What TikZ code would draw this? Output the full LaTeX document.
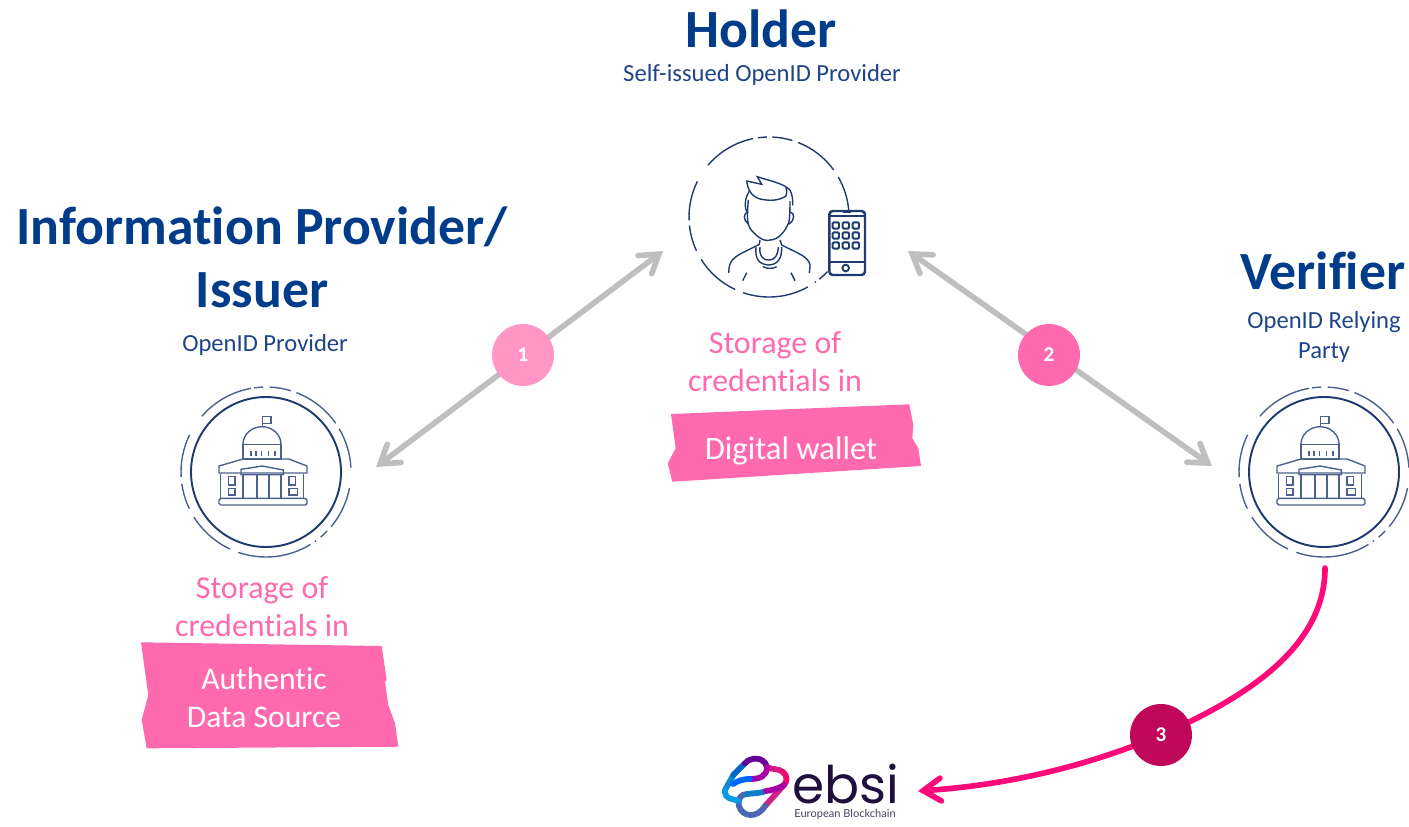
\documentclass[tikz,border=0pt]{standalone}
\usepackage{fontspec}
\setmainfont{Carlito}[RawFeature={-liga}]
\newfontfamily\logofont{Poppins}
\newfontfamily\smallfont{Lato}
\usetikzlibrary{arrows.meta}
\definecolor{navy}{HTML}{003C8A}
\definecolor{subnavy}{HTML}{1F4488}
\definecolor{icon}{HTML}{1F3A6E}
\definecolor{rose}{HTML}{FF69AE}
\definecolor{greyarrow}{HTML}{BFBFBF}
\definecolor{hotline}{HTML}{FF0A78}
\definecolor{ebsidark}{HTML}{1E0F3C}
\tikzset{
  >={Straight Barb[length=10pt,width=13pt,line cap=round]},
  title/.style={text=navy, font=\fontsize{30.6}{36}\selectfont\bfseries, align=center},
  subtitle/.style={text=subnavy, font=\fontsize{14}{17}\selectfont, align=center},
  stored/.style={text=rose, font=\fontsize{18.2}{21.5}\selectfont, align=center},
  tapetext/.style={text=white, font=\fontsize{18}{21.5}\selectfont, align=center},
  tape/.style={fill=rose, draw=none},
  badge/.style={circle, minimum size=1.24cm, inner sep=0pt, text=white, font=\fontsize{12}{14}\selectfont\bfseries},
  iconline/.style={draw=icon, line width=0.8pt},
  thinline/.style={draw=icon!80!white, line width=0.8pt},
  logoline/.style={line width=3.3pt, line cap=round},
  building/.pic={
    \draw [iconline, line width=1.1pt] (0,0) circle [radius=75];
    \foreach \a/\b in {-139/-100,-98/-92,-87.5/-73,-69/-35,-30.6/-3,11/40,44/50,54/55,58.5/109,115/148,154.5/172,176.6/206}
      \draw [thinline] (\a:85) arc [start angle=\a, end angle=\b, radius=85];
    \draw [thinline] (-3.7,-45) -- (-3.7,-55.3) rectangle (5,-48.7);
    \draw [thinline] (-23,-27.7) arc [start angle=180, end angle=360, x radius=19, y radius=17.6];
    \draw [thinline] (-23,-27.7) rectangle (15,-13);
    \foreach \x in {-15,-10,-4.3,2.3,9}
      \draw [thinline] (\x,-21) -- (\x,-16);
    \draw [thinline] (-47,-6) -- (-23,-13) -- (23,-13) -- (41,-6) -- (41,1) -- (-47,1) -- cycle;
    \draw [thinline] (-25,-2.7) -- (-3.7,-6) -- (17.3,-2) -- (17.3,2.7) -- (-25,2.7) -- cycle;
    \foreach \x in {-45.3,37.3,-23,-9,3,15}
      \draw [thinline] (\x,2) -- (\x,26.3);
    \draw [thinline] (-37.3,4.7) rectangle (-31,13);
    \draw [thinline] (-37.3,16.3) rectangle (-31,23);
    \draw [thinline] (23,4.7) rectangle (29.7,13);
    \draw [thinline] (23,16.3) rectangle (31.3,23);
    \draw [thinline, rounded corners=1pt] (-47,26.3) rectangle (41,33);
  }
}
\begin{document}
\begin{tikzpicture}[x=0.02cm, y=-0.02cm]
\useasboundingbox (0,0) rectangle (1409,826);

\node [title] (holdertitle) at (761,29) {Holder};
\node [subtitle] (holdersub) at (762,75) {Self-issued OpenID Provider};
\node [title] (issuertitle) at (262,257) {Information Provider/\\Issuer};
\node [subtitle] (issuersub) at (265,345) {OpenID Provider};
\node [title] (verifiertitle) at (1323,271) {Verifier};
\node [subtitle] (verifiersub) at (1324,337) {OpenID Relying\\Party};

\coordinate (holder) at (769,217);
\foreach \a/\b in {-139.7/-101.6,-98/-91.5,-87.6/-73,-68.6/-36,-30/-4,43/51,54/55,61/109,115/148,155/174,177.6/206.4}
  \draw [iconline] (holder) ++(\a:80) arc [start angle=\a, end angle=\b, radius=80];
\draw [iconline, line cap=round] (746.7,181) -- (761.7,184.3) -- (757.3,176.7) .. controls (770,181) and (783,183) .. (790,190) .. controls (792,194) and (793,199) .. (792.7,205);
\draw [iconline, line cap=round] (746.7,181) .. controls (748,190) and (751,196) .. (760,199) .. controls (770,201) and (778,201) .. (786,196) .. controls (787,192) and (787,189) .. (786,188);
\draw [iconline] (750,190) .. controls (745,198) and (744,204) .. (746.7,212);
\draw [iconline] (748.3,200) .. controls (747,218) and (746,226) .. (754,233) .. controls (762,241) and (767,241) .. (770,240) .. controls (778,240) and (785,232) .. (789,222) .. controls (790,214) and (790,206) .. (790,201);
\draw [iconline] (748.3,212) .. controls (743,213) and (743,220) .. (748.3,224);
\draw [iconline] (790,212) .. controls (795,213) and (795,220) .. (789,224);
\draw [iconline] (760,240) -- (759.3,244.3) .. controls (745,252) and (735,255) .. (731,262) .. controls (729,265) and (729,269) .. (728.7,273);
\draw [iconline] (780,240) -- (781.7,245) .. controls (795,252) and (805,255) .. (809,262) .. controls (811,265) and (809.5,269) .. (809.3,273);
\draw [iconline] (756,247) .. controls (755,258) and (758,264) .. (768,265) .. controls (778,265) and (782,258) .. (781.7,247);
\draw [iconline] (760,247) .. controls (759,255) and (762,260) .. (769,260) .. controls (775,260) and (778,255) .. (778.3,247);
\draw [iconline] (762.7,266.7) .. controls (768,269) and (772,269) .. (776.7,266.7);
\draw [iconline] (746.7,272.7) -- (742.7,280.7);
\draw [iconline] (791,272.7) -- (795,280.7);
\draw [draw=icon, line width=1.4pt, rounded corners=2pt] (829.3,211) rectangle (865,275);
\draw [draw=icon, line width=1.1pt] (829.3,215.7) -- (865,215.7);
\draw [draw=icon, line width=1.1pt] (829.3,262.3) -- (865,262.3);
\draw [draw=icon, line width=1.1pt] (843,212.5) -- (851,212.5);
\foreach \x in {832.7,842.7,852.7}
  \foreach \y in {222.3,232.3,242.3}
    \draw [draw=icon, line width=1.1pt, rounded corners=0.7pt] (\x,\y) rectangle ++(6.3,6.3);
\draw [draw=icon, line width=1.1pt] (845.7,268) circle [radius=3.3];

\coordinate (issuer) at (266,472);
\coordinate (verifier) at (1324,472);
\pic at (issuer) {building};
\pic at (verifier) {building};

\node [stored] (issuerstored) at (262,607) {Storage of\\credentials in};
\node [stored] (holderstored) at (775,362) {Storage of\\credentials in};

\draw [tape] (141,642.3) -- (381.7,646) -- (386.7,680) -- (385,681.7) -- (388.3,705) -- (395,723.3) -- (398.3,746.7) -- (146.7,748.3) -- (141.7,720) -- (148.3,695) -- cycle;
\draw [tape] (671,414) -- (909.3,404.3) -- (913.3,425) -- (912.3,438.3) -- (918.3,448.3) -- (921,466) -- (672.3,481.7) -- (667.7,463.3) -- (675.7,448.3) -- cycle;
\node [tapetext] (source) at (264,698) {Authentic\\Data Source};
\node [tapetext, font=\fontsize{18.6}{21.5}\selectfont] (wallet) at (791,451) {Digital wallet};

\coordinate (a1) at (376,467);
\coordinate (a2) at (663,251);
\coordinate (b1) at (908,251);
\coordinate (b2) at (1212,466);
\coordinate (c1) at (1325,568);
\coordinate (c2) at (918,791);
\draw [<->, greyarrow, line width=3.2pt] (a1) -- (a2);
\draw [<->, greyarrow, line width=3.2pt] (b1) -- (b2);
\draw [->, hotline, line width=3.2pt, line cap=round] (c1) .. controls (1325,650) and (1240,700) .. (1161,735) .. controls (1090,765) and (1010,785) .. (c2);

\node [badge, fill=rose!70!white] (one) at (523,355) {1};
\node [badge, fill=rose] (two) at (1049,355) {2};
\node [badge, fill=hotline!75!black] (three) at (1161,735) {3};

\draw [logoline, color=cyan!70!blue] (725,790) -- (733.3,775);
\draw [logoline, color=blue!50!cyan!80!black] (733.3,775) -- (745,763.3);
\draw [logoline, color=violet!80!blue] (745,763.3) .. controls (750,757) and (764,756) .. (767,767);
\draw [logoline, color=magenta!80!violet] (767,767) .. controls (772,770) and (778,768) .. (783,772);
\draw [logoline, color=magenta!70!red] (783,772) .. controls (788,776) and (787,782) .. (784,785);
\draw [logoline, color=magenta!70!violet] (784,785) -- (765,806);
\draw [logoline, color=violet!60!cyan] (765,806) .. controls (757,819) and (742,817) .. (739,806) .. controls (737,798) and (742,794) .. (747,794);
\draw [logoline, color=cyan!60!blue] (747,794) .. controls (755,793) and (762,793) .. (766,791);
\draw [logoline, color=violet!70!magenta] (766,791) .. controls (772,790) and (778,789) .. (784,785);
\draw [logoline, color=cyan!85!blue] (725,790) .. controls (724,800) and (735,799) .. (739,801);
\draw [logoline, color=violet!70!magenta] (767,767) .. controls (767,776) and (760,779) .. (750,779);
\draw [logoline, color=blue!60!cyan] (750,779) .. controls (742,779) and (738,781) .. (733,784);

\node [text=ebsidark, font=\logofont\fontsize{29.5}{32}\selectfont, inner sep=0pt, anchor=base] (ebsi) at (846,803) {ebsi};
\node [text=ebsidark!80!white, font=\smallfont\fontsize{6.3}{7}\selectfont, inner sep=0pt, anchor=base] (ebsisub) at (845,817) {European Blockchain};
\end{tikzpicture}
\end{document}
